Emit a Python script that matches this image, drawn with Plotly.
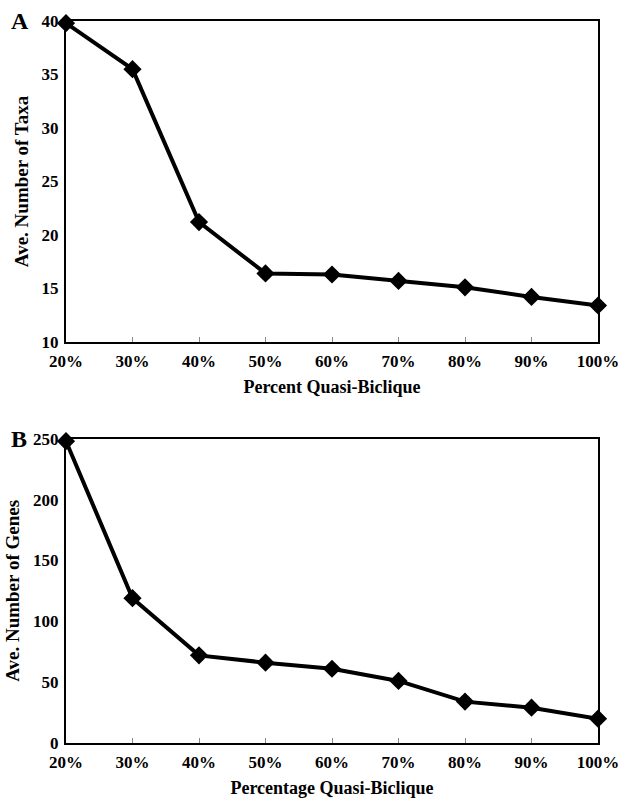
import plotly.graph_objects as go

categories = ["20%", "30%", "40%", "50%", "60%", "70%", "80%", "90%", "100%"]
taxa = [39.8, 35.5, 21.2, 16.4, 16.3, 15.7, 15.1, 14.2, 13.4]
genes = [248, 119, 72, 66, 61, 51, 34, 29, 20]

W, H = 631, 807
mt, mb, ml, mr = 14, 55, 61, 22
ph = H - mt - mb
a_bottom = 342
b_top = 441
a_dom = [1 - (a_bottom - mt) / ph, 1]
b_dom = [0, 1 - (b_top - mt) / ph]

FONT = "Liberation Serif"

fig = go.Figure()
xs = list(range(len(categories)))
line = dict(color="black", width=4)
marker = dict(symbol="diamond", size=14, color="black")
fig.add_trace(go.Scatter(x=xs, y=taxa, mode="lines+markers", line=line, marker=marker,
                         cliponaxis=False, xaxis="x", yaxis="y", showlegend=False))
fig.add_trace(go.Scatter(x=xs, y=genes, mode="lines+markers", line=line, marker=marker,
                         cliponaxis=False, xaxis="x2", yaxis="y2", showlegend=False))

tickfont = dict(family=FONT, size=17, color="black", weight="bold")
xtitlefont = dict(family=FONT, size=18, color="black", weight="bold")
ytitlefont = dict(family=FONT, size=19, color="black", weight="bold")

xcommon = dict(range=[0, 8], tickmode="array", tickvals=xs, ticktext=categories,
               showline=True, linecolor="black", linewidth=2, mirror=True,
               ticks="inside", ticklen=5, tickcolor="#888", tickwidth=1,
               showgrid=False, zeroline=False, tickfont=tickfont,
               ticklabelstandoff=3)
ycommon = dict(showline=True, linecolor="black", linewidth=2, mirror=True,
               ticks="", showgrid=False, zeroline=False, tickfont=tickfont,
               ticklabelstandoff=2)

fig.update_layout(
    width=W, height=H,
    margin=dict(l=ml, r=mr, t=mt, b=mb),
    plot_bgcolor="white", paper_bgcolor="white",
    xaxis=dict(**xcommon, anchor="y",
               title=dict(text="Percent Quasi-Biclique", font=xtitlefont, standoff=10)),
    yaxis=dict(**ycommon, domain=a_dom, range=[10, 40], tickvals=[10, 15, 20, 25, 30, 35, 40],
               anchor="x",
               title=dict(text="Ave. Number of Taxa", font=ytitlefont, standoff=8)),
    xaxis2=dict(**xcommon, anchor="y2",
                title=dict(text="Percentage Quasi-Biclique", font=xtitlefont, standoff=10)),
    yaxis2=dict(**ycommon, domain=b_dom, range=[0, 250], tickvals=[0, 50, 100, 150, 200, 250],
                anchor="x2",
                title=dict(text="Ave. Number of Genes", font=ytitlefont, standoff=8)),
    annotations=[
        dict(text="A", xref="paper", yref="paper", x=-0.107, y=a_dom[1], xanchor="left",
             yanchor="middle", showarrow=False,
             font=dict(family=FONT, size=24, color="black", weight="bold")),
        dict(text="B", xref="paper", yref="paper", x=-0.107, y=b_dom[1], xanchor="left",
             yanchor="middle", showarrow=False,
             font=dict(family=FONT, size=24, color="black", weight="bold")),
    ],
)

fig.write_html("out.html")
